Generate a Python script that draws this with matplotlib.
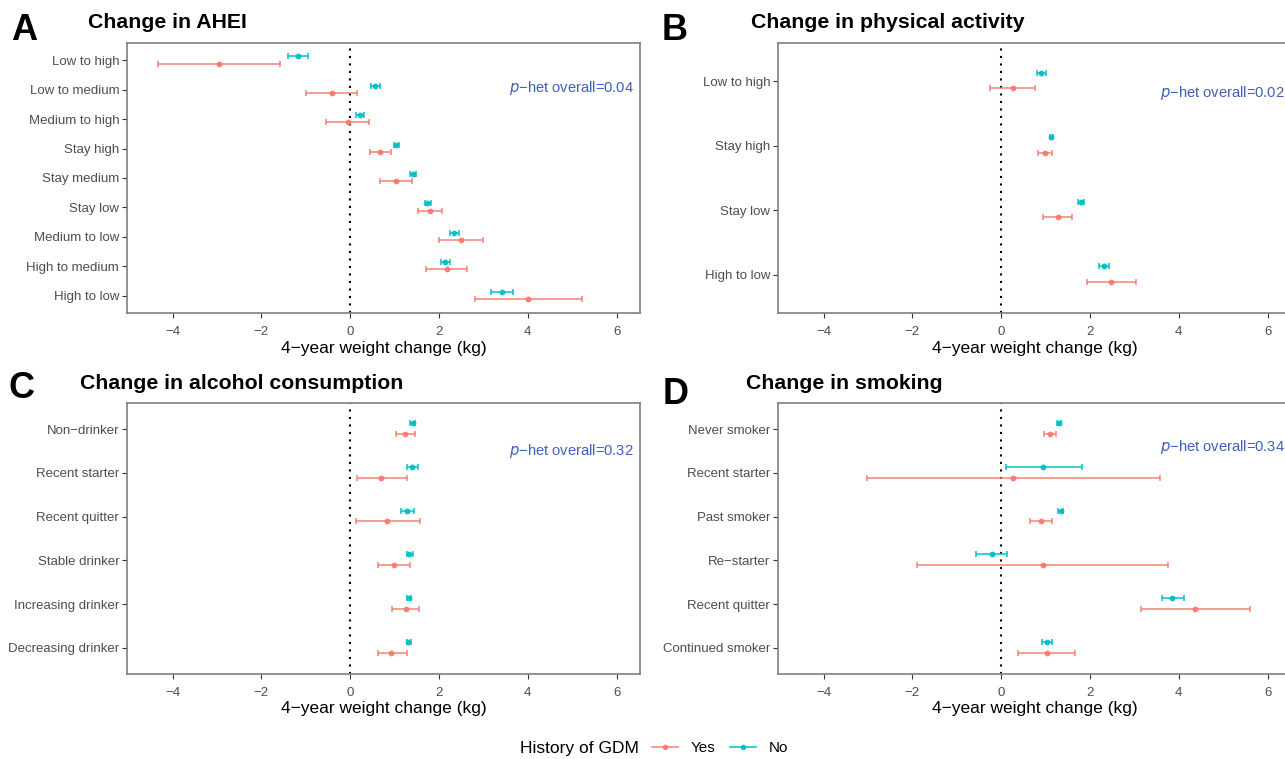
import matplotlib
matplotlib.use("Agg")
import matplotlib.pyplot as plt
from matplotlib.lines import Line2D
import numpy as np

plt.rcParams['font.family'] = ['Liberation Sans', 'DejaVu Sans']

YES_COL = '#F8766D'
NO_COL = '#00BFC4'

# Panel A: change in AHEI
ahei_cats = ["Low to high", "Low to medium", "Medium to high", "Stay high", "Stay medium",
             "Stay low", "Medium to low", "High to medium", "High to low"]
ahei_yes = [-2.96, -0.42, -0.06, 0.68, 1.04, 1.79, 2.50, 2.18, 4.00]
ahei_yes_lo = [-4.32, -0.99, -0.55, 0.45, 0.68, 1.52, 2.01, 1.71, 2.80]
ahei_yes_hi = [-1.58, 0.16, 0.43, 0.93, 1.39, 2.07, 3.00, 2.64, 5.23]
ahei_no = [-1.18, 0.55, 0.22, 1.03, 1.41, 1.74, 2.34, 2.14, 3.41]
ahei_no_lo = [-1.40, 0.46, 0.12, 0.98, 1.35, 1.69, 2.24, 2.05, 3.17]
ahei_no_hi = [-0.94, 0.67, 0.32, 1.09, 1.49, 1.81, 2.44, 2.24, 3.67]

# Panel B: change in physical activity
pa_cats = ["Low to high", "Stay high", "Stay low", "High to low"]
pa_yes = [0.26, 0.98, 1.27, 2.48]
pa_yes_lo = [-0.25, 0.83, 0.95, 1.93]
pa_yes_hi = [0.77, 1.15, 1.59, 3.03]
pa_no = [0.89, 1.13, 1.79, 2.31]
pa_no_lo = [0.80, 1.09, 1.72, 2.20]
pa_no_hi = [1.01, 1.16, 1.86, 2.43]

# Panel C: change in alcohol consumption
alc_cats = ["Non\u2212drinker", "Recent starter", "Recent quitter", "Stable drinker",
            "Increasing drinker", "Decreasing drinker"]
alc_yes = [1.24, 0.70, 0.84, 0.98, 1.25, 0.93]
alc_yes_lo = [1.03, 0.16, 0.12, 0.63, 0.95, 0.62]
alc_yes_hi = [1.47, 1.28, 1.57, 1.35, 1.54, 1.27]
alc_no = [1.41, 1.39, 1.29, 1.33, 1.32, 1.31]
alc_no_lo = [1.35, 1.29, 1.15, 1.27, 1.28, 1.27]
alc_no_hi = [1.47, 1.52, 1.43, 1.41, 1.38, 1.38]

# Panel D: change in smoking
smk_cats = ["Never smoker", "Recent starter", "Past smoker", "Re\u2212starter",
            "Recent quitter", "Continued smoker"]
smk_yes = [1.10, 0.26, 0.89, 0.94, 4.37, 1.03]
smk_yes_lo = [0.96, -3.03, 0.64, -1.89, 3.14, 0.38]
smk_yes_hi = [1.24, 3.57, 1.15, 3.76, 5.61, 1.66]
smk_no = [1.30, 0.95, 1.34, -0.21, 3.85, 1.04]
smk_no_lo = [1.26, 0.10, 1.29, -0.57, 3.61, 0.93]
smk_no_hi = [1.34, 1.83, 1.39, 0.14, 4.12, 1.14]

p_het = ["0.04", "0.02", "0.32", "0.34"]
titles = ["Change in AHEI", "Change in physical activity",
          "Change in alcohol consumption", "Change in smoking"]
letters = ["A", "B", "C", "D"]

panels = [
    (ahei_cats, ahei_yes, ahei_yes_lo, ahei_yes_hi, ahei_no, ahei_no_lo, ahei_no_hi),
    (pa_cats, pa_yes, pa_yes_lo, pa_yes_hi, pa_no, pa_no_lo, pa_no_hi),
    (alc_cats, alc_yes, alc_yes_lo, alc_yes_hi, alc_no, alc_no_lo, alc_no_hi),
    (smk_cats, smk_yes, smk_yes_lo, smk_yes_hi, smk_no, smk_no_lo, smk_no_hi),
]

W, H = 1285, 759
fig = plt.figure(figsize=(W / 100, H / 100), dpi=100)

# axes boxes in pixels: left, top, right, bottom
boxes = [(127, 42.7, 640, 313.3), (778, 42.7, 1291, 313.3),
         (127, 403, 640, 674), (778, 403, 1291, 674)]
ptext_y = [0.833, 0.813, 0.824, 0.839]
letter_pos = [(11, 40), (662, 40), (9, 398), (663, 404)]
title_pos = [(88, 27.5), (751, 28), (80, 389), (746, 389)]

for i, (cats, y, ylo, yhi, n, nlo, nhi) in enumerate(panels):
    l, t, r, b = boxes[i]
    ax = fig.add_axes([l / W, (H - b) / H, (r - l) / W, (b - t) / H])
    pos = np.arange(1, len(cats) + 1)
    y = np.array(y); ylo = np.array(ylo); yhi = np.array(yhi)
    n = np.array(n); nlo = np.array(nlo); nhi = np.array(nhi)

    ax.axvline(0, color='black', lw=1.5, linestyle=(0, (1, 2.6)), zorder=1)
    ax.errorbar(y, pos + 0.11, xerr=[y - ylo, yhi - y], fmt='o', ms=3.2,
                color=YES_COL, ecolor=YES_COL, elinewidth=1.2, capsize=2.2,
                capthick=1.2, alpha=0.85, zorder=3)
    ax.errorbar(n, pos - 0.135, xerr=[n - nlo, nhi - n], fmt='o', ms=3.2,
                color=NO_COL, ecolor=NO_COL, elinewidth=1.2, capsize=2.2,
                capthick=1.2, alpha=0.9, zorder=3)

    ax.set_xlim(-5.025, 6.525)
    ax.set_ylim(len(cats) + 0.6, 0.4)
    ax.set_xticks([-4, -2, 0, 2, 4, 6])
    ax.set_yticks(pos)
    ax.set_yticklabels(cats)
    ax.tick_params(axis='both', labelsize=9.5, labelcolor='#4D4D4D', color='#333333',
                   length=3.6, width=0.8)
    ax.tick_params(axis='y', pad=2)
    ax.tick_params(axis='x', pad=5.5)
    for sp in ax.spines.values():
        sp.set_color('#7F7F7F')
        sp.set_linewidth(1.2)
    ax.set_xlabel("4\u2212year weight change (kg)", fontsize=12.5, labelpad=2)
    ax.text(0.988, ptext_y[i], "$p$\u2212het overall=" + p_het[i], transform=ax.transAxes,
            ha='right', va='center', color='#3F5FBF', fontsize=10.6)

    lx, ly = letter_pos[i]
    fig.text(lx / W, (H - ly) / H, letters[i], fontsize=26, fontweight='bold',
             va='baseline', ha='left')
    tx, ty = title_pos[i]
    fig.text(tx / W, (H - ty) / H, titles[i], fontsize=15.3, fontweight='bold',
             va='baseline', ha='left')

# legend at the bottom
fig.text(520 / W, (H - 748) / H, "History of GDM", fontsize=12.5, va='center', ha='left')
handles = [
    Line2D([], [], color=YES_COL, marker='o', ms=3, lw=1.2, alpha=0.85, label='Yes'),
    Line2D([], [], color=NO_COL, marker='o', ms=3, lw=1.2, alpha=0.9, label='No'),
]
fig.legend(handles=handles, loc='center left', bbox_to_anchor=(652 / W, (H - 748) / H),
           ncol=2, frameon=False, fontsize=11, handlelength=1.7, handletextpad=0.8,
           columnspacing=1.0, borderpad=0, borderaxespad=0)

fig.savefig("out.png", dpi=100)
